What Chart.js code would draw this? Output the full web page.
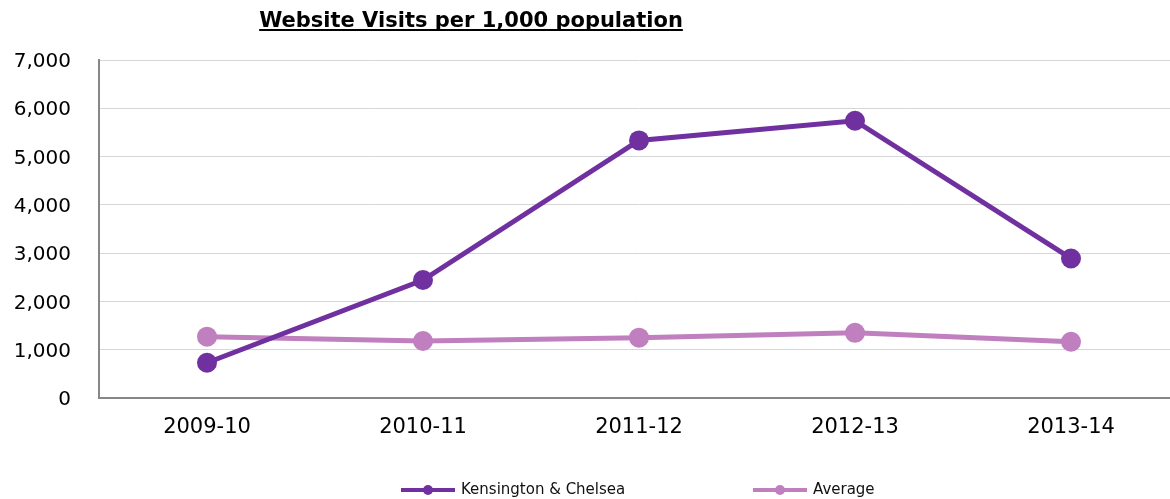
<!DOCTYPE html>
<html>
<head>
<meta charset="utf-8">
<script src="https://cdn.jsdelivr.net/npm/chart.js@4.4.0/dist/chart.umd.min.js"></script>
<style>
html,body{margin:0;padding:0;background:#fff;overflow:hidden;width:1170px;height:499px;}
#wrap{width:1170px;height:499px;position:relative;overflow:hidden;}
canvas{display:block;}
</style>
</head>
<body>
<div id="wrap"><canvas id="c" width="1189" height="499"></canvas></div>
<script>
const categories = ['2009-10','2010-11','2011-12','2012-13','2013-14'];
const kensington = [730, 2443, 5335, 5742, 2890];
const average = [1270, 1180, 1250, 1350, 1165];
const yTicks = [0,1000,2000,3000,4000,5000,6000,7000];
const titleText = 'Website Visits per 1,000 population';
const seriesNames = ['Kensington & Chelsea','Average'];

const colK = '#7030A0';
const colA = '#C07FBF';

const titlePlugin = {
  id:'customTitle',
  afterDraw(chart){
    const ctx = chart.ctx;
    ctx.save();
    ctx.font = 'bold 21px "DejaVu Sans"';
    ctx.fillStyle = '#000';
    ctx.textAlign = 'center';
    ctx.textBaseline = 'alphabetic';
    const cx = 471, by = 27;
    ctx.fillText(titleText, cx, by);
    const w = ctx.measureText(titleText).width;
    ctx.fillRect(cx - w/2, by + 2, w, 2);
    ctx.restore();
  }
};

const legendPlugin = {
  id:'customLegend',
  afterDraw(chart){
    const ctx = chart.ctx;
    const items = [{x:401}, {x:753}];
    ctx.save();
    ctx.font = '15px "DejaVu Sans"';
    ctx.textBaseline = 'middle';
    ctx.textAlign = 'left';
    const y = 490;
    chart.data.datasets.forEach((ds,i)=>{
      const x = items[i].x;
      ctx.strokeStyle = ds.borderColor;
      ctx.lineWidth = 4;
      ctx.beginPath(); ctx.moveTo(x,y); ctx.lineTo(x+54,y); ctx.stroke();
      ctx.fillStyle = ds.borderColor;
      ctx.beginPath(); ctx.arc(x+27,y,5,0,Math.PI*2); ctx.fill();
      ctx.fillStyle = '#111';
      ctx.fillText(ds.label, x+60, y);
    });
    ctx.restore();
  }
};

new Chart(document.getElementById('c'), {
  type:'line',
  data:{
    labels:categories,
    datasets:[
      {label:seriesNames[0], data:kensington, borderColor:colK, backgroundColor:colK,
       borderWidth:5, pointRadius:10, pointHoverRadius:10, pointBackgroundColor:colK, pointBorderWidth:0, tension:0},
      {label:seriesNames[1], data:average, borderColor:colA, backgroundColor:colA,
       borderWidth:5, pointRadius:10, pointHoverRadius:10, pointBackgroundColor:colA, pointBorderWidth:0, tension:0}
    ]
  },
  options:{
    responsive:false,
    animation:false,
    devicePixelRatio:1,
    layout:{padding:{top:60,right:0,left:0,bottom:0}},
    plugins:{legend:{display:false}, title:{display:false}, tooltip:{enabled:false}},
    scales:{
      x:{
        offset:true,
        grid:{display:false, drawTicks:false},
        border:{display:true, color:'#878787', width:2},
        ticks:{font:{family:'"DejaVu Sans"', size:21}, color:'#000', padding:17, maxRotation:0, autoSkip:false},
        afterFit(s){ s.height = 101; }
      },
      y:{
        min:0, max:7000,
        afterBuildTicks(s){ s.ticks = yTicks.map(v=>({value:v})); },
        grid:{color:'#d6d6d6', lineWidth:1, drawTicks:false},
        border:{display:true, color:'#878787', width:2},
        ticks:{font:{family:'"DejaVu Sans"', size:20}, color:'#000', padding:28, labelOffset:2,
          callback:v=>v.toLocaleString('en-US')},
        afterFit(s){ s.width = 99; }
      }
    }
  },
  plugins:[titlePlugin, legendPlugin]
});
</script>
</body>
</html>
